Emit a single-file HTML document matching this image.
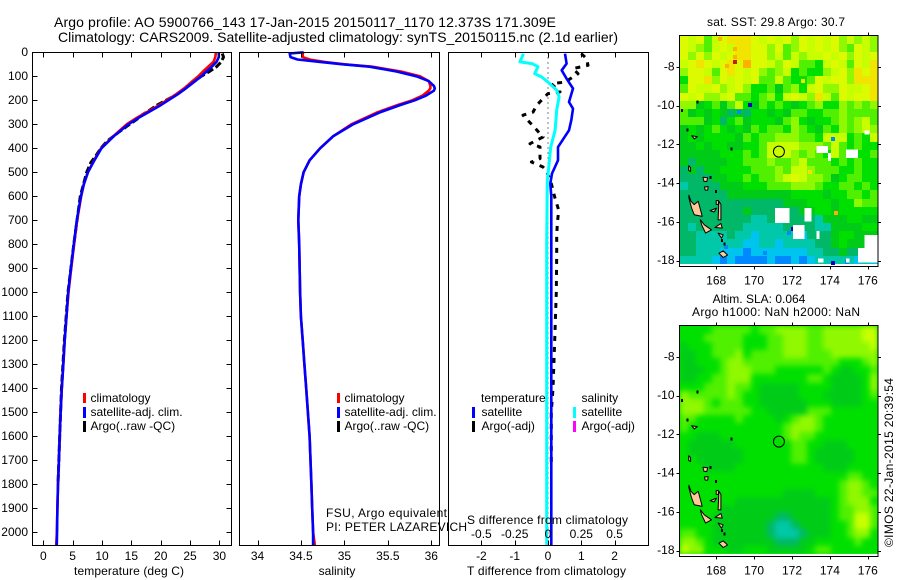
<!DOCTYPE html>
<html lang="en">
<head>
<meta charset="utf-8">
<title>Argo profile 5900766_143</title>
<style>
html,body{margin:0;padding:0;background:#fff;}
svg{display:block;position:absolute;left:0;top:0;}
text{font-family:"Liberation Sans",Arial,sans-serif;font-size:12px;fill:#000;}
.title{font-size:14px;}
</style>
</head>
<body>
<svg id="chart" width="900" height="580" viewBox="0 0 900 580" xmlns="http://www.w3.org/2000/svg">
  <defs>
    <filter id="sla-smooth" x="-5%" y="-5%" width="110%" height="110%" color-interpolation-filters="sRGB">
      <feGaussianBlur stdDeviation="2.6"/>
    </filter>
  </defs>
  <rect x="0" y="0" width="900" height="580" fill="#fff"/>
  <text class="title" x="54" y="27" textLength="502" lengthAdjust="spacing">Argo profile: AO 5900766_143 17-Jan-2015 20150117_1170 12.373S 171.309E</text>
  <text class="title" x="58" y="42" textLength="560" lengthAdjust="spacing">Climatology: CARS2009. Satellite-adjusted climatology: synTS_20150115.nc (2.1d earlier)</text>
  <g id="panels"></g>
  <g id="maps"></g>

  <text x="74" y="575" textLength="110" lengthAdjust="spacing">temperature (deg C)</text>
  <text x="337" y="575" text-anchor="middle">salinity</text>
  <text x="467" y="575" textLength="159" lengthAdjust="spacing">T difference from climatology</text>
  <text x="467" y="524" textLength="161" lengthAdjust="spacing">S difference from climatology</text>
  <text x="326" y="517" textLength="121" lengthAdjust="spacing">FSU, Argo equivalent</text>
  <text x="326" y="531" textLength="141" lengthAdjust="spacing">PI: PETER LAZAREVICH</text>

  <g>
    <rect x="83" y="393" width="3" height="10" fill="#f00"/>
    <text x="90.5" y="402">climatology</text>
    <rect x="83" y="407" width="3" height="11" fill="#00f"/>
    <text x="90.5" y="416">satellite-adj. clim.</text>
    <rect x="83" y="421" width="3" height="11" fill="#000"/>
    <text x="90.5" y="430">Argo(..raw -QC)</text>
  </g>
  <g>
    <rect x="337" y="393" width="3" height="10" fill="#f00"/>
    <text x="344.5" y="402">climatology</text>
    <rect x="337" y="407" width="3" height="11" fill="#00f"/>
    <text x="344.5" y="416">satellite-adj. clim.</text>
    <rect x="337" y="421" width="3" height="11" fill="#000"/>
    <text x="344.5" y="430">Argo(..raw -QC)</text>
  </g>
  <g>
    <text x="481" y="402">temperature</text>
    <rect x="472" y="407" width="3" height="11" fill="#00f"/>
    <text x="481.5" y="416">satellite</text>
    <rect x="472" y="421" width="3" height="11" fill="#000"/>
    <text x="481.5" y="430">Argo(-adj)</text>
    <text x="581.5" y="402">salinity</text>
    <rect x="573" y="407" width="3" height="11" fill="#0ff"/>
    <text x="581.5" y="416">satellite</text>
    <rect x="573" y="421" width="3" height="11" fill="#f0f"/>
    <text x="581.5" y="430">Argo(-adj)</text>
  </g>

  <text x="707" y="26" textLength="138" lengthAdjust="spacing">sat. SST: 29.8  Argo: 30.7</text>
  <text x="759" y="303" text-anchor="middle">Altim. SLA: 0.064</text>
  <text x="692" y="316" textLength="168" lengthAdjust="spacing">Argo h1000: NaN h2000: NaN</text>
  <text transform="translate(893,547) rotate(-90)" textLength="169" lengthAdjust="spacing">©IMOS 22-Jan-2015 20:39:54</text>
</svg>

<script>
// ---- Profile data ----
const depthTicks = [0,100,200,300,400,500,600,700,800,900,1000,1100,1200,1300,1400,1500,1600,1700,1800,1900,2000];
const tempTicks = [0,5,10,15,20,25,30];
const salTicks = [34,34.5,35,35.5,36];
const salTickLabels = ['34','34.5','35','35.5','36'];
const tDiffTicks = [-2,-1,0,1,2];
const sDiffTicks = [-0.5,-0.25,0,0.25,0.5];
const sDiffTickLabels = ['-0.5','-0.25','0','0.25','0.5'];

const tempDepth = [0,20,40,60,80,100,125,150,175,200,225,250,275,300,350,400,450,500,550,600,700,800,900,1000,1100,1200,1300,1400,1500,1600,1700,1800,1900,2000,2055];
const tempClim = [29.4,29.3,29,28.1,27.2,26.4,25.2,24,22.6,21,19.4,17.6,15.8,14.2,11.9,9.85,8.65,7.6,6.9,6.45,5.75,5.25,4.75,4.3,3.95,3.65,3.4,3.15,2.95,2.8,2.65,2.5,2.4,2.32,2.2];
const tempSat = [29.9,29.9,29.5,28.7,27.8,26.9,25.6,24.3,22.9,21.3,19.7,17.9,16.1,14.5,12,9.9,8.7,7.6,6.9,6.4,5.7,5.2,4.7,4.25,3.95,3.65,3.4,3.15,2.95,2.8,2.65,2.5,2.4,2.33,2.3];
const argoDepth = [5,20,40,60,80,100,130,160,180,200,220,240,260,280,300,330,370,400,430,460,500,600,800,1000,1200,1400,1600,1800];
const argoTemp = [30.5,30.7,30.3,29.5,28.3,26.9,25.2,23.7,22.4,20.9,19.4,18.2,16.9,15.9,14.7,13,10.9,9.8,9,8.1,7.4,6.3,5.2,4.2,3.6,3.1,2.8,2.5];

const salDepth = [0,5,20,30,40,50,60,80,100,120,140,150,160,180,200,220,250,300,350,400,450,500,550,600,700,800,1000,1100,1200,1300,1400,1500,1600,1700,1800,1900,2000,2055];
const salClim = [34.53,34.52,34.52,34.6,34.77,35,35.32,35.65,35.87,35.97,35.99,35.99,35.97,35.9,35.78,35.61,35.38,35.08,34.87,34.72,34.6,34.53,34.5,34.48,34.47,34.48,34.49,34.5,34.52,34.54,34.56,34.58,34.6,34.61,34.62,34.63,34.64,34.66];
const salSat = [34.53,34.37,34.38,34.46,34.72,34.98,35.29,35.6,35.83,35.97,36.03,36.04,36.03,35.94,35.81,35.64,35.41,35.1,34.87,34.72,34.6,34.53,34.5,34.48,34.47,34.48,34.49,34.5,34.52,34.54,34.56,34.58,34.6,34.61,34.62,34.63,34.64,34.64];

const tDiffDepth = [6,47,75,110,151,207,235,283,325,395,450,505,547,600,800,1000,1400,2055];
const tDiffSat = [0.51,0.56,0.41,0.56,0.75,0.63,0.75,0.7,0.63,0.3,0.3,0.12,0.07,0.1,0.1,0.1,0.1,0.1];
const sDiffDepth = [6,40,47,60,89,103,124,158,186,241,325,395,465,533,800,1400,2055];
const sDiffSat = [-0.185,-0.21,-0.12,-0.075,-0.1,-0.047,0,0.065,0.083,0.065,0.053,0.02,0.008,-0.005,-0.01,-0.01,-0.01];
const tDiffArgoDepth = [6,26,54,68,89,124,131,165,172,193,221,249,262,311,353,381,394,443,457,478,492,547,603,658,714,769,839,1000,1200,1400,1500,1730];
const tDiffArgo = [1,1.16,1.2,0.75,0.9,0.51,0.1,0.36,0,-0.15,-0.34,-0.45,-0.75,-0.42,-0.15,-0.54,-0.24,-0.24,-0.5,-0.15,-0.05,0.1,0.2,0.32,0.28,0.26,0.26,0.25,0.2,0.15,0.1,0.1];

// ---- Map data: one character per grid cell, see levelColours ----
const lonTicks = [168,170,172,174,176];
const latTicks = [-8,-10,-12,-14,-16,-18];
const levelColours = {'0':'#0000c0','1':'#0088ff','2':'#00c4f0','3':'#00c8a8','4':'#00b868','5':'#00cc18','6':'#00e000','7':'#50f000','8':'#90f800','9':'#c8ff00','a':'#dcfa00','b':'#f0e400','c':'#ffb000','d':'#c02000'};
const sstRows = [
"a9a79abbba9a9a8a9a9a89898",
"a9879a9bba a8a78a9a9a87a98",
"a8a8a9abba a8979899a9a8a9a",
"9aba9abaca a98a97769a97a9b",
"8aa97aba9a8789676689a8bab",
"6aab8a9a9a7797667a9aa8bbb",
"7a99a89a866757869a88a99ab",
"a9a889a7767869a98b97a9aab",
"8856757965767656786687878",
"7565654546656577667787777",
"7775646756665786566787897",
"5656765657677687657687898",
"5656666576778887769996769",
"5565665566799998887976766",
"5555566676799987876977667",
"5455556677787789777676766",
"4545566667778799877766766",
"4444556676778 9a98875677665",
"3444455566677788876677676",
"4444445555555566665667767",
"4444444444444555666566877",
"4444444454444445566566666",
"4444444443344444435556655",
"4344444433333444433555566",
"4433334332333332444566555",
"4433333322332333344565555",
"4433322212222222334454433",
"3333212111121121233333232"
].map(function(r){return r.replace(/ /g,'').slice(0,25);});
const slaRows = [
"6666777776778888778888899",
"6667777766677888778888899",
"5666777766677888778888889",
"5566777867777888777888888",
"5566678877777777777766678",
"5556678887776666667655667",
"5566778886666666776555568",
"6667778776555556666555568",
"8777778766555556665555567",
"8887677766555555666555566",
"8887777776655555777666666",
"7766666766665678876666666",
"7666666666666788876666666",
"6655566666666787766666666",
"6555555666666677665556666",
"6555555566666677655555666",
"6655555566666677655555666",
"6665555666666666665556666",
"6666666666666666666667766",
"6666666666666666666678876",
"6666666666666555566678877",
"6666666555555555555678886",
"6666655555555555555677887",
"6666555555554455555677997",
"6666555555543345555667997",
"7766555555543334555667886",
"8876555555554445566666766",
"9886665566655555677666666"
];
const sstMissing = [[173.28,173.89,-12.09,-12.44],[173.89,174.07,-12.44,-12.87],[174.86,175.47,-12.27,-12.7],[175.82,176.09,-11.28,-11.49],[171.09,171.88,-15.29,-16.06],[172.67,173.02,-15.29,-15.98],[172.05,172.67,-16.15,-16.88],[173.28,173.46,-16.46,-16.88],[175.82,176.6,-16.67,-18.1],[175.47,175.82,-17.36,-18.1],[173.37,173.67,-17.88,-18.1],[174.86,175.04,-17.88,-18.1]];
const sstSpotLon = [169.77,169.2,174.16,172.05,171.85,174.35,168.98,168.2,168.98,168.98,168.55,172.58,174.16,172.95,170.2,168.5,170.6,174.9];
const sstSpotLat = [-9.97,-10.33,-11.75,-16.35,-16.6,-15.56,-7.77,-6.56,-7.1,-7.5,-7.95,-8.72,-18.13,-13.45,-17.9,-17.3,-17.6,-18.1];
const sstSpotLevel = ['0','1','1','0','1','c','d','c','c','c','c','b','0','b','1','1','1','1'];
const islandNames = ['santo','malekula','efate','ambae','pentecost','epi','tanna','banks-1','banks-2','reef-1','reef-2','maewo'];
const islandOutlines = [
 [[166.56,-14.63],[166.67,-14.94],[166.84,-15.11],[167.05,-14.94],[167.19,-15.46],[167.26,-15.72],[166.84,-15.63],[166.7,-15.29],[166.56,-14.77]],
 [[167.16,-15.89],[167.37,-16.15],[167.75,-16.41],[167.44,-16.58],[167.23,-16.15]],
 [[167.93,-16.29],[168.25,-16.08],[168.32,-16.32]],
 [[167.68,-15.42],[168.02,-15.29],[167.89,-15.49]],
 [[168.14,-14.94],[168.25,-15.1],[168.25,-15.9],[168.1,-15.9]],
 [[168.1,-16.58],[168.37,-16.67],[168.28,-16.84]],
 [[168.14,-17.62],[168.37,-17.5],[168.6,-17.71],[168.37,-17.84]],
 [[167.3,-13.7],[167.55,-13.72],[167.5,-13.92],[167.35,-13.9]],
 [[167.38,-14.2],[167.58,-14.18],[167.55,-14.36],[167.42,-14.36]],
 [[166.7,-11.55],[167,-11.6],[166.85,-11.72]],
 [[166.55,-13.1],[166.65,-13.2],[166.65,-13.4],[166.55,-13.35]],
 [[168,-14.9],[168.12,-14.9],[168.12,-15.1],[168,-15.1]]
];
const reefLon = [166.49,168.8,167,166.2,168,167.7,168.3,168.45];
const reefLat = [-11.25,-12.25,-9.8,-10.25,-14.42,-13.7,-16.95,-17.15];
const floatLon = 171.309;
const floatLat = -12.373;

// ---- Axis functions ----
const SVGNS = 'http://www.w3.org/2000/svg';
const yDepth = function(d){return 52.3 + d*0.24;};
const xTemp = function(v){return 43.3 + v*5.87;};
const xSal = function(v){return 257.5 + (v-34)*86.9;};
const xTDiff = function(v){return 548 + v*33.3;};
const xSDiff = function(v){return 548 + v*133.2;};
const xLon = function(v){return 716.2 + (v-168)*18.95;};
const yLat = function(v,top){return top + 31.4 + (-8-v)*19.37;};

function mk(tag, attrs, parent){
  const n = document.createElementNS(SVGNS, tag);
  for (const k in attrs) n.setAttribute(k, attrs[k]);
  parent.appendChild(n);
  return n;
}
const panelsRoot = document.getElementById('panels');
const mapsRoot = document.getElementById('maps');

function drawFrame(parent, x0, x1, y0, y1){
  const f = mk('rect',{x:x0,y:y0,width:x1-x0,height:y1-y0,fill:'none',stroke:'#000','stroke-width':1,'shape-rendering':'crispEdges'},parent);
  
  
}
function drawLine(parent, xs, ys, colour, width, dash, name){
  const pts = xs.map(function(x,i){return x.toFixed(1)+','+ys[i].toFixed(1);}).join(' ');
  const a = {points:pts,fill:'none',stroke:colour,'stroke-width':width,'stroke-linejoin':'round'};
  if (dash) a['stroke-dasharray'] = dash;
  const l = mk('polyline',a,parent);
  
  
}
function xAxis(parent, ticks, labels, xf, labelY, top, bottom, name){
  ticks.forEach(function(t,i){
    const x = Math.round(xf(t))+0.5;
    const tb = mk('line',{x1:x,x2:x,y1:bottom,y2:bottom-5,stroke:'#000','shape-rendering':'crispEdges'},parent);
    
    
    const tt = mk('line',{x1:x,x2:x,y1:top,y2:top+5,stroke:'#000','shape-rendering':'crispEdges'},parent);
    
    
    const lb = mk('text',{x:xf(t),y:labelY,'text-anchor':'middle'},parent);
    lb.textContent = labels[i];
    
    
  });
}

// ---- Panel 1: temperature ----
const p1 = mk('g',{},panelsRoot);


drawLine(p1, argoTemp.map(xTemp), argoDepth.map(yDepth), '#000', 3, '7 3', 'argo-temperature-line');
drawLine(p1, tempClim.map(xTemp), tempDepth.map(yDepth), '#f00', 2.6, null, 'climatology-temperature-line');
drawLine(p1, tempSat.map(xTemp), tempDepth.map(yDepth), '#00f', 2.6, null, 'satellite-temperature-line');
drawFrame(p1, 32.5, 231.5, 52.5, 545.5);
xAxis(p1, tempTicks, tempTicks.map(String), xTemp, 560, 52.5, 545.5, 'temperature-axis');
depthTicks.forEach(function(d){
  const y = Math.round(yDepth(d))+0.5;
  const tl = mk('line',{x1:32.5,x2:37.5,y1:y,y2:y,stroke:'#000','shape-rendering':'crispEdges'},p1);
  
  
  const tr = mk('line',{x1:226.5,x2:231.5,y1:y,y2:y,stroke:'#000','shape-rendering':'crispEdges'},p1);
  
  
  const lb = mk('text',{x:28,y:yDepth(d)+3.6,'text-anchor':'end'},p1);
  lb.textContent = String(d);
  
  
});

// ---- Panel 2: salinity ----
const p2 = mk('g',{},panelsRoot);


drawLine(p2, salClim.map(xSal), salDepth.map(yDepth), '#f00', 2.6, null, 'climatology-salinity-line');
drawLine(p2, salSat.map(xSal), salDepth.map(yDepth), '#00f', 2.6, null, 'satellite-salinity-line');
drawFrame(p2, 239.5, 439.5, 52.5, 545.5);
xAxis(p2, salTicks, salTickLabels, xSal, 560, 52.5, 545.5, 'salinity-axis');

// ---- Panel 3: differences ----
const p3 = mk('g',{},panelsRoot);


const zero = mk('line',{x1:xTDiff(0),x2:xTDiff(0),y1:52.5,y2:545.5,stroke:'#000','stroke-width':1,'stroke-dasharray':'1 4'},p3);


drawLine(p3, tDiffArgo.map(xTDiff), tDiffArgoDepth.map(yDepth), '#000', 3, '5 6', 'argo-t-difference-line');
drawLine(p3, tDiffSat.map(xTDiff), tDiffDepth.map(yDepth), '#00f', 2.6, null, 'satellite-t-difference-line');
drawLine(p3, sDiffSat.map(xSDiff), sDiffDepth.map(yDepth), '#0ff', 3, null, 'satellite-s-difference-line');
drawFrame(p3, 448.5, 648.5, 52.5, 545.5);
xAxis(p3, tDiffTicks, tDiffTicks.map(String), xTDiff, 560, 52.5, 545.5, 't-difference-axis');
sDiffTicks.forEach(function(t,i){
  const lb = mk('text',{x:xSDiff(t),y:538,'text-anchor':'middle'},p3);
  lb.textContent = sDiffTickLabels[i];
  
  
});

// ---- Maps ----
const LON_START = 166.08, LON_STEP = 0.419, LAT_START = -6.38, LAT_STEP = 0.421;
function drawMap(name, top, bottom, rows, isSst){
  const g = mk('g',{},mapsRoot);
  
  
  const L = 679.5, R = 878;
  const clip = mk('clipPath',{id:name+'-clip'},g);
  mk('rect',{x:L,y:top,width:R-L,height:bottom-top},clip);
  const inner = mk('g',{'clip-path':'url(#'+name+'-clip)'},g);
  
  
  if (!isSst){
    const under = mk('rect',{x:L,y:top,width:R-L,height:yLat(LAT_START-rows.length*LAT_STEP,top)-top,fill:levelColours['6']},inner);
    
    
  }
  const heat = mk('g',isSst?{}:{filter:'url(#sla-smooth)'},inner);
  
  
  rows.forEach(function(row,r){
    for (let c=0;c<row.length;c++){
      const x0 = Math.round(xLon(LON_START+c*LON_STEP));
      const x1 = Math.round(xLon(LON_START+(c+1)*LON_STEP));
      const y0 = Math.round(yLat(LAT_START-r*LAT_STEP,top));
      const y1 = Math.round(yLat(LAT_START-(r+1)*LAT_STEP,top));
      const cell = mk('rect',{x:x0,y:y0,width:x1-x0,height:y1-y0,fill:levelColours[row[c]],'shape-rendering':'crispEdges'},heat);
      
      
    }
  });
  if (!isSst){
    const strip = mk('rect',{x:L,y:yLat(LAT_START-rows.length*LAT_STEP,top),width:R-L,height:6,fill:'#fff','shape-rendering':'crispEdges'},inner);
    
    
  }
  if (isSst){
    sstSpotLon.forEach(function(lon,i){
      const s = mk('rect',{x:Math.round(xLon(lon-0.11)),y:Math.round(yLat(sstSpotLat[i]+0.11,top)),width:4,height:4,fill:levelColours[sstSpotLevel[i]],'shape-rendering':'crispEdges'},inner);
      
      
    });
    sstMissing.forEach(function(m){
      const w = mk('rect',{x:xLon(m[0]),y:yLat(m[2],top),width:xLon(m[1])-xLon(m[0]),height:yLat(m[3],top)-yLat(m[2],top),fill:'#fff','shape-rendering':'crispEdges'},inner);
      
      
    });
  }
  islandOutlines.forEach(function(poly,i){
    const pts = poly.map(function(p){return xLon(p[0]).toFixed(1)+','+yLat(p[1],top).toFixed(1);}).join(' ');
    const isl = mk('polygon',{points:pts,fill:'#ffc898',stroke:'#000','stroke-width':1,'stroke-linejoin':'round'},inner);
    
    
  });
  reefLon.forEach(function(lon,i){
    const d = mk('rect',{x:xLon(lon)-1,y:yLat(reefLat[i],top)-1.5,width:2,height:3,fill:'#000','shape-rendering':'crispEdges'},inner);
    
    
  });
  const circ = mk('circle',{cx:xLon(floatLon),cy:yLat(floatLat,top),r:5.5,fill:'none',stroke:'#000','stroke-width':1},g);
  
  
  drawFrame(g, L, R, top, bottom);
  lonTicks.forEach(function(t){
    const x = Math.round(xLon(t))+0.5;
    const a = mk('line',{x1:x,x2:x,y1:top-3,y2:top,stroke:'#000','shape-rendering':'crispEdges'},g);
    
    
    const b = mk('line',{x1:x,x2:x,y1:bottom,y2:bottom+3,stroke:'#000','shape-rendering':'crispEdges'},g);
    
    
    const lb = mk('text',{x:xLon(t),y:bottom+18,'text-anchor':'middle'},g);
    lb.textContent = String(t);
    
    
  });
  latTicks.forEach(function(t){
    const y = Math.round(yLat(t,top))+0.5;
    const a = mk('line',{x1:L-3,x2:L,y1:y,y2:y,stroke:'#000','shape-rendering':'crispEdges'},g);
    
    
    const b = mk('line',{x1:R,x2:R+3,y1:y,y2:y,stroke:'#000','shape-rendering':'crispEdges'},g);
    
    
    const lb = mk('text',{x:L-5,y:yLat(t,top)+3.6,'text-anchor':'end'},g);
    lb.textContent = String(t);
    
    
  });
}
drawMap('sst-map', 35.5, 266.5, sstRows, true);
drawMap('sla-map', 325.5, 556.5, slaRows, false);
</script>
</body>
</html>
